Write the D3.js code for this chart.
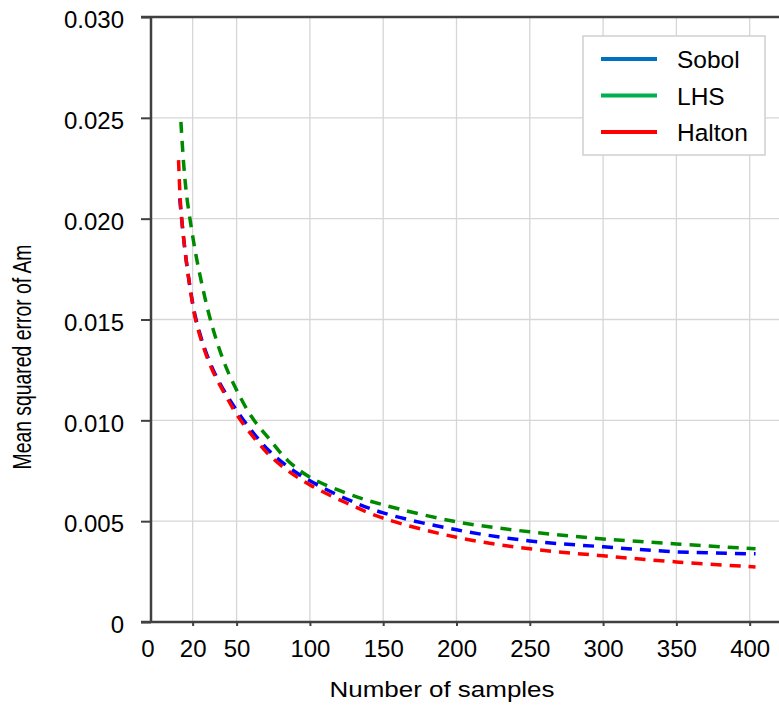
<!DOCTYPE html>
<html>
<head>
<meta charset="utf-8">
<script src="https://cdn.jsdelivr.net/npm/d3@7"></script>
<style>
  html, body { margin: 0; padding: 0; background: #fff; }
  svg { display: block; font-family: "Liberation Sans", Arial, Helvetica, sans-serif; }
</style>
</head>
<body>
<svg id="chart" width="779" height="708"></svg>
<script>
// Sample counts and mean squared error for each sampling method
const sobolX  = [11.2, 12.5, 15, 18, 22, 28, 34, 42, 50, 60, 72, 85, 100, 125, 150, 200, 250, 300, 350, 404];
const sobolY  = [0.0210, 0.0200, 0.0183, 0.0167, 0.0151, 0.0136, 0.0125, 0.0114, 0.0105, 0.0095, 0.0085, 0.0077, 0.00700, 0.0061, 0.00541, 0.00457, 0.00402, 0.00373, 0.00348, 0.00338];
const lhsX    = [12, 14, 16, 19, 22, 25, 31, 37, 43, 50, 60, 72, 85, 100, 125, 150, 200, 250, 300, 350, 404];
const lhsY    = [0.0248, 0.0226, 0.0211, 0.0196, 0.0183, 0.0172, 0.0153, 0.0138, 0.0126, 0.0115, 0.0102, 0.0091, 0.0080, 0.00718, 0.00638, 0.00581, 0.00497, 0.00447, 0.00412, 0.00387, 0.00363];
const haltonX = [10.4, 11.5, 12.5, 15, 18, 22, 28, 34, 42, 50, 60, 72, 85, 100, 125, 150, 200, 250, 300, 350, 404];
const haltonY = [0.0229, 0.0210, 0.0200, 0.0183, 0.0167, 0.0150, 0.0135, 0.0124, 0.0113, 0.0103, 0.0093, 0.0083, 0.0075, 0.0068, 0.0059, 0.00515, 0.00420, 0.00363, 0.00328, 0.00298, 0.00273];

const seriesNames   = ["Sobol", "LHS", "Halton"];
const lineColors    = ["#0000ff", "#008a00", "#ff0000"];
const legendColors  = ["#0070c0", "#00b050", "#ff0000"];

const xTickValues = [20, 50, 100, 150, 200, 250, 300, 350, 400];
const xOriginLabel = "0";
const yTickValues = [0, 0.005, 0.010, 0.015, 0.020, 0.025, 0.030];
const xTitle = "Number of samples";
const yTitle = "Mean squared error of Am";

const series = [
  { name: seriesNames[0], xs: sobolX,  ys: sobolY },
  { name: seriesNames[1], xs: lhsX,    ys: lhsY },
  { name: seriesNames[2], xs: haltonX, ys: haltonY }
];

const svg = d3.select("#chart");
const plotLeft = 151, plotRight = 779, plotTop = 17, plotBottom = 622;

const x = d3.scaleLinear().domain([-8.4, 420]).range([plotLeft, plotRight]);
const y = d3.scaleLinear().domain([0, 0.030]).range([plotBottom, plotTop]);

// grid
const grid = svg.append("g");
grid.selectAll("line.v").data(xTickValues).join("line")
  .attr("class", "v")
  .attr("x1", d => x(d)).attr("x2", d => x(d))
  .attr("y1", plotTop).attr("y2", plotBottom)
  .attr("stroke", "#d6d6d6").attr("stroke-width", 1.3);
grid.selectAll("line.h").data(yTickValues.filter(d => d > 0 && d < 0.03)).join("line")
  .attr("class", "h")
  .attr("x1", plotLeft).attr("x2", plotRight)
  .attr("y1", d => y(d)).attr("y2", d => y(d))
  .attr("stroke", "#d6d6d6").attr("stroke-width", 1.3);

// curves
const line = d3.line().x(d => x(d[0])).y(d => y(d[1])).curve(d3.curveCatmullRom.alpha(0.5));
const drawOrder = [1, 0, 2];
drawOrder.forEach(i => {
  const s = series[i];
  const pts = s.xs.map((v, k) => [v, s.ys[k]]);
  svg.append("path")
    .datum(pts)
    .attr("d", line)
    .attr("fill", "none")
    .attr("stroke", lineColors[i])
    .attr("stroke-width", 3.5)
    .attr("stroke-dasharray", "11,8");
});

// axes
const yAxis = d3.axisLeft(y)
  .tickValues(yTickValues)
  .tickSize(10)
  .tickPadding(17)
  .tickFormat(d => d === 0 ? "0" : d3.format(".3f")(d));
const gy = svg.append("g").attr("transform", `translate(${plotLeft},0)`).call(yAxis);
gy.select(".domain").remove();
gy.selectAll(".tick line").attr("stroke", "#404040").attr("stroke-width", 2);
gy.selectAll(".tick text").attr("font-size", 24).attr("fill", "#000").attr("dy", "0.45em");

const xAxis = d3.axisBottom(x)
  .tickValues(xTickValues)
  .tickSize(4)
  .tickPadding(14);
const gx = svg.append("g").attr("transform", `translate(0,${plotBottom})`).call(xAxis);
gx.select(".domain").remove();
gx.selectAll(".tick line").attr("stroke", "#404040").attr("stroke-width", 2);
gx.selectAll(".tick text").attr("font-size", 24).attr("fill", "#000");

svg.append("text")
  .attr("x", x.range()[0] - 3).attr("y", plotBottom + 18)
  .attr("dy", "0.71em").attr("text-anchor", "middle")
  .attr("font-size", 24).attr("fill", "#000")
  .text(xOriginLabel);

// frame lines
const frame = svg.append("g").attr("stroke", "#404040").attr("stroke-width", 2.5);
frame.append("line").attr("x1", plotLeft - 10).attr("x2", plotRight).attr("y1", plotTop).attr("y2", plotTop);
frame.append("line").attr("x1", plotLeft - 10).attr("x2", plotRight).attr("y1", plotBottom).attr("y2", plotBottom);
frame.append("line").attr("x1", plotLeft).attr("x2", plotLeft).attr("y1", plotTop).attr("y2", plotBottom);

// titles
svg.append("text")
  .attr("x", 442).attr("y", 697)
  .attr("text-anchor", "middle")
  .attr("font-size", 22).attr("fill", "#000")
  .attr("textLength", 225).attr("lengthAdjust", "spacingAndGlyphs")
  .text(xTitle);

svg.append("text")
  .attr("transform", "translate(31,357) rotate(-90)")
  .attr("text-anchor", "middle")
  .attr("font-size", 25).attr("fill", "#000")
  .attr("textLength", 225).attr("lengthAdjust", "spacingAndGlyphs")
  .text(yTitle);

// legend
const legend = svg.append("g").attr("transform", "translate(583,36)");
legend.append("rect")
  .attr("width", 182).attr("height", 119)
  .attr("fill", "#fff").attr("stroke", "#d0d0d0").attr("stroke-width", 1.5);
const rows = legend.selectAll("g.row").data(seriesNames).join("g")
  .attr("class", "row")
  .attr("transform", (d, i) => `translate(0,${23 + i * 36.5})`);
rows.append("line")
  .attr("x1", 18).attr("x2", 74)
  .attr("stroke", (d, i) => legendColors[i]).attr("stroke-width", 4);
rows.append("text")
  .attr("x", 94).attr("y", 9)
  .attr("font-size", 24.5).attr("fill", "#000")
  .text(d => d);
</script>
</body>
</html>
